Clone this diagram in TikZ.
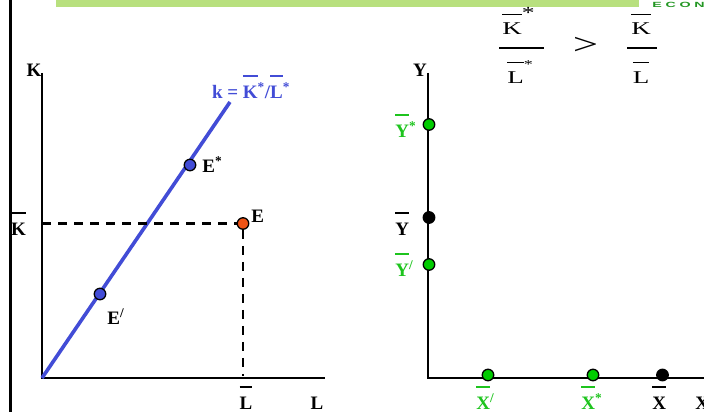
\documentclass[tikz,border=0pt]{standalone}
\usepackage{fontspec}
\setmainfont{Liberation Serif}
\newfontfamily\bannerfont[LetterSpace=26]{Liberation Sans}
\definecolor{rayblue}{RGB}{66,76,214}
\definecolor{endoworange}{RGB}{240,84,22}
\definecolor{outgreen}{RGB}{0,204,0}
\definecolor{lblgreen}{RGB}{30,196,30}
\definecolor{bannergreen}{RGB}{184,224,126}
\definecolor{bannertext}{RGB}{34,150,34}
\newsavebox{\barbox}
\newcommand{\barlbl}[1]{\sbox{\barbox}{#1}\rlap{\rule[1.1em]{\wd\barbox}{0.09em}}\usebox{\barbox}}
\newcommand{\widetxt}[1]{\scalebox{1.5}[1]{#1}}

\begin{document}
\begin{tikzpicture}[x=1pt, y=-1pt, thick,
  axis/.style={line width=1.6pt},
  eqdot/.style={circle, draw=black, line width=1.3pt, minimum size=11.5pt, inner sep=0pt},
  lbl/.style={font=\fontsize{19}{21}\selectfont\bfseries},
  frac/.style={font=\fontsize{18}{20}\selectfont, inner sep=0pt},
  guide/.style={dash pattern=on 9pt off 7pt, line width=2.8pt}]
  \useasboundingbox (0,0) rectangle (704,412);

  % banner
  \fill[bannergreen] (56,0) rectangle (639,7.5);
  \node[anchor=base west, inner sep=0pt, text=bannertext, font=\fontsize{7.5}{7.5}\selectfont\bfseries\bannerfont] (banner) at (652,8) {\scalebox{1.9}[1]{ECON}};
  \draw[line width=3pt] (10,0) -- (10,412);

  % left panel: K against L
  \coordinate (O1) at (42,378);
  \coordinate (Ktop) at (42,73);
  \coordinate (Lend) at (325,378);
  \draw[axis] (Ktop) -- (O1) -- (Lend);
  \coordinate (ktop) at (230,102);
  \draw[rayblue, line width=3.6pt] (O1) -- (ktop);
  \coordinate (Kmark) at (42,223.5);
  \coordinate (Lmark) at (243,376);
  \node[eqdot, fill=endoworange] (E) at (243,223.5) {};
  \draw[guide] (Kmark) -- (E);
  \draw[guide] (E) -- (Lmark);
  \node[eqdot, fill=rayblue] (Estar) at (190,165) {};
  \node[eqdot, fill=rayblue] (Eprime) at (100,294) {};

  \node[lbl, anchor=base] (Klbl) at (34,77) {K};
  \node[lbl, anchor=base] (Llbl) at (317,409) {L};
  \node[lbl, anchor=base, text=rayblue] (kray) at (251,98) {k = \barlbl{K}\textsuperscript{*}/\barlbl{L}\textsuperscript{*}};
  \node[lbl, anchor=base west, inner sep=0pt] (Estarlbl) at (202,172) {E\textsuperscript{*}};
  \node[lbl, anchor=base west, inner sep=0pt] (Eprimelbl) at (107,324) {E\textsuperscript{/}};
  \node[lbl, anchor=base west, inner sep=0pt] (Elbl) at (251,222) {E};
  \node[lbl, anchor=base] (Kbar) at (18.5,235) {\barlbl{K}};
  \node[lbl, anchor=base] (Lbar) at (246,409) {\barlbl{L}};

  % right panel: Y against X
  \coordinate (O2) at (428,378);
  \coordinate (Ytop) at (428,73);
  \coordinate (Xend) at (712,378);
  \draw[axis] (Ytop) -- (O2) -- (Xend);
  \node[eqdot, fill=outgreen] (Ystar) at (429,124.5) {};
  \node[eqdot, fill=black] (Ybar) at (429,217.5) {};
  \node[eqdot, fill=outgreen] (Yprime) at (429,264.5) {};
  \node[eqdot, fill=outgreen] (Xprime) at (488,375) {};
  \node[eqdot, fill=outgreen] (Xstar) at (593,375) {};
  \node[eqdot, fill=black] (Xbar) at (662.5,375) {};

  \node[lbl, anchor=base] (Ylbl) at (420,77) {Y};
  \node[lbl, anchor=base west, inner sep=0pt] (Xlbl) at (695,409) {X};
  \node[lbl, anchor=base west, inner sep=0pt, text=lblgreen] (Ystarlbl) at (395,137) {\barlbl{Y}\textsuperscript{*}};
  \node[lbl, anchor=base west, inner sep=0pt] (Ybarlbl) at (395,235) {\barlbl{Y}};
  \node[lbl, anchor=base west, inner sep=0pt, text=lblgreen] (Yprimelbl) at (395,276) {\barlbl{Y}\textsuperscript{/}};
  \node[lbl, anchor=base west, inner sep=0pt, text=lblgreen] (Xprimelbl) at (476,409) {\barlbl{X}\textsuperscript{/}};
  \node[lbl, anchor=base west, inner sep=0pt, text=lblgreen] (Xstarlbl) at (581,409) {\barlbl{X}\textsuperscript{*}};
  \node[lbl, anchor=base west, inner sep=0pt] (Xbarlbl) at (652,409) {\barlbl{X}};

  % ratio comparison
  \node[frac, anchor=base west] (numA) at (502,35) {\widetxt{\barlbl{K}\raisebox{0.9em}{\fontsize{17}{17}\selectfont*}}};
  \node[frac, anchor=base west] (denA) at (507,83) {\widetxt{\barlbl{L}\raisebox{0.8em}{\fontsize{12}{12}\selectfont*}}};
  \draw[line width=1.2pt] (499,48) -- (544,48);
  \node[font=\fontsize{30}{30}\selectfont, anchor=base, inner sep=0pt] (gt) at (585.5,55) {\widetxt{>}};
  \node[frac, anchor=base] (numB) at (641,35) {\widetxt{\barlbl{K}}};
  \node[frac, anchor=base] (denB) at (641,83) {\widetxt{\barlbl{L}}};
  \draw[line width=1.2pt] (627,48) -- (657,48);
\end{tikzpicture}
\end{document}
